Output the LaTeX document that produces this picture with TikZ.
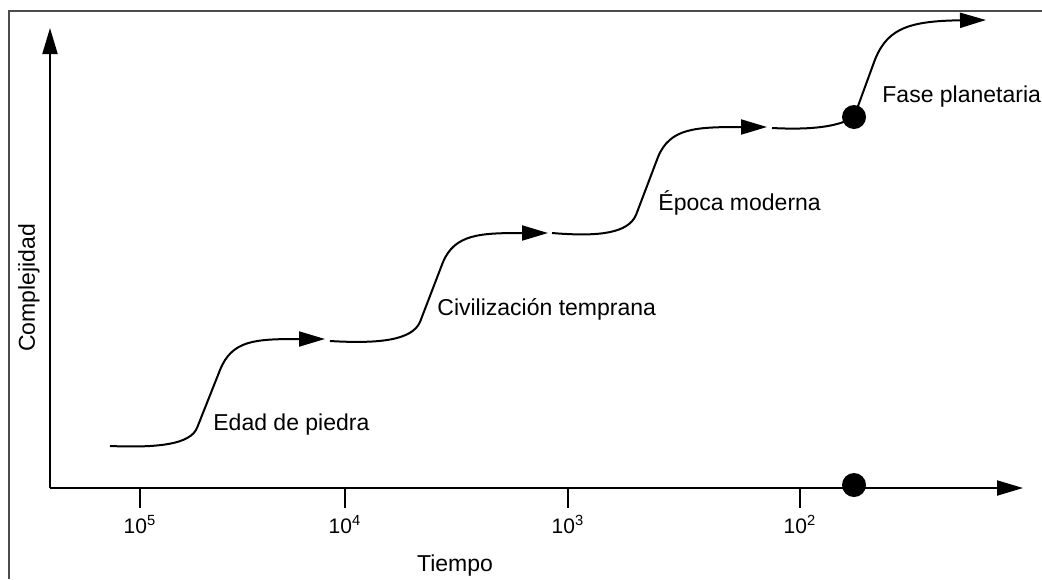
\documentclass[tikz,border=0pt]{standalone}
\usepackage{fontspec}
\setmainfont{Liberation Sans}
\usepackage{tikz}
\usetikzlibrary{arrows.meta, positioning, calc}
\tikzstyle{arrow} = [line width=1pt, -{Triangle[length=13pt, width=7.5pt]}]

\begin{document}
\begin{tikzpicture}[
	x=0.5pt, y=-0.5pt,
	every node/.style={font=\fontsize{11.5}{13}\selectfont},
	frame/.style={line width=1pt, draw=black!70},
	tickmark/.style={line width=1pt},
	curve/.style={line width=1pt},
	dot/.style={circle, fill=black, inner sep=0pt, minimum size=12pt},
	phase/.style={anchor=base west, inner sep=0pt},
	ticklabel/.style={anchor=base, inner sep=0pt, font=\fontsize{10.5}{12}\selectfont}
]
\useasboundingbox (0,0) rectangle (1042,579);

% Frame
\draw[frame] (9,579) -- (9,11) -- (1042,11);

% Axes
\coordinate (origin) at (50,488);
\coordinate (yTip) at (50,28);
\coordinate (xTip) at (1023,488);
\draw[arrow] (origin) -- (yTip);
\draw[arrow] (origin) -- (xTip);
\foreach \x/\e in {140/5, 345/4, 568/3, 800/2} {
	\draw[tickmark] (\x,488) -- (\x,508);
	\node[ticklabel] (tick\e) at (\x,533) {10\textsuperscript{\e}};
}
\node (tiempo) at (455,566) {Tiempo};
\node[rotate=90] (complejidad) at (29,288) {Complejidad};

% Dots
\node[dot] (dotAxis) at (854,485) {};
\node[dot] (dotCurve) at (854,117) {};

% Growth curve
\coordinate (s1) at (110,446);
\coordinate (e1) at (325,339);
\coordinate (s2) at (330,341);
\coordinate (e2) at (548,233);
\coordinate (s3) at (552,233);
\coordinate (e3) at (767,127);
\coordinate (s4) at (772,128);
\coordinate (e4) at (986,20);
\draw[arrow] (s1) .. controls (160,448) and (190,444) .. (197,428) -- (220,370)
	.. controls (232,340) and (255,339) .. (e1);
\draw[arrow] (s2) .. controls (380,344) and (412,340) .. (420,322) -- (443,262)
	.. controls (455,234) and (480,233) .. (e2);
\draw[arrow] (s3) .. controls (600,237) and (628,233) .. (636,215) -- (658,157)
	.. controls (670,128) and (695,127) .. (e3);
\draw[curve] (s4) .. controls (810,130) and (838,127) .. (dotCurve.center);
\draw[arrow] (dotCurve.center) -- (873,65) .. controls (885,30) and (905,21) .. (e4);

% Phase labels
\node[phase] (piedra) at (213,430) {Edad de piedra};
\node[phase] (civilizacion) at (437,315) {Civilización temprana};
\node[phase] (moderna) at (658,210) {Época moderna};
\node[phase] (planetaria) at (882,102) {Fase planetaria};

\end{tikzpicture}
\end{document}
